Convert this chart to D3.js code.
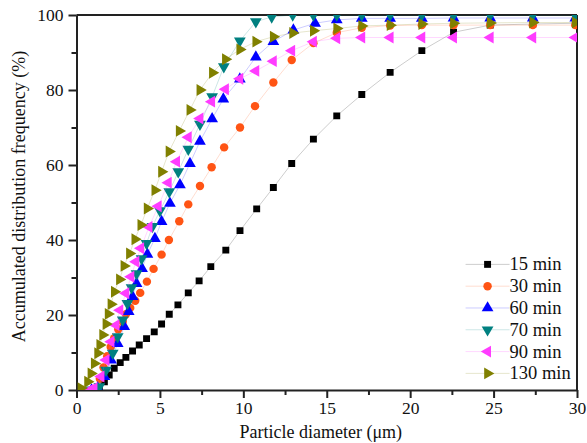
<!DOCTYPE html>
<html>
<head>
<meta charset="utf-8">
<script src="https://cdn.jsdelivr.net/npm/d3@7/dist/d3.min.js"></script>
<style>
  body { margin: 0; background: #fff; }
  text { font-family: "Times New Roman", "Liberation Serif", serif; fill: #111; }
</style>
</head>
<body>
<div id="chart"></div>
<script>
// Data: [diameter (µm), accumulated frequency (%)]
const min15 = [[1.2,0],[1.37,0.5],[1.67,2.2],[1.96,4],[2.26,5.8],[2.62,7.3],[2.96,8.7],[3.36,10.4],[3.76,12],[4.2,13.7],[4.66,15.5],[5.1,17.6],[5.56,20.2],[6.08,22.7],[6.7,25.9],[7.35,29.1],[8.05,32.9],[8.95,37.3],[9.8,42.5],[10.8,48.3],[11.8,54],[12.9,60.4],[14.2,66.9],[15.6,73.1],[17.1,78.8],[18.8,84.7],[20.7,90.5],[22.6,95.4],[24.8,97.3],[27.35,97.6],[29.9,97.8]];
const min30 = [[1.0,0],[1.17,0.5],[1.4,3],[1.62,6],[1.84,9],[2.05,11.5],[2.26,13.8],[2.5,16.2],[2.77,18.2],[2.96,20.2],[3.22,21.9],[3.52,23.8],[3.82,25.9],[4.22,28.9],[4.62,32.3],[5.1,36.1],[5.54,40],[6.16,45],[6.7,49.5],[7.4,54.4],[8.1,59.4],[8.85,64.7],[9.8,70],[10.7,75.7],[11.8,82],[12.9,88],[14.2,92.5],[15.6,95.3],[17.1,96.6],[18.8,97.2],[20.7,97.3],[22.6,97.3],[24.8,97.3],[27.35,97.3],[29.9,97.3]];
const min60 = [[0.9,0],[1.27,0.5],[1.67,3.6],[2.07,8],[2.47,12.4],[2.86,16.9],[3.13,20.9],[3.36,24.9],[3.6,28.4],[3.93,32.4],[4.25,36.2],[4.7,40.4],[5.1,44.9],[5.6,49.8],[6.2,54.7],[6.8,60.4],[7.4,66.3],[8.13,72.3],[8.8,77.6],[9.79,82.9],[10.75,88.8],[11.8,92.9],[13,96],[14.3,97.8],[15.6,98.7],[17.1,99.1],[18.8,99.1],[20.7,99.1],[22.6,99.2],[24.8,99.2],[27.35,99.2],[29.9,99.2]];
const min70 = [[0.9,0],[1.37,0.9],[1.77,5.3],[2.17,9.8],[2.47,14.2],[2.77,18.7],[3.05,23.1],[3.3,27.3],[3.6,31],[3.9,35],[4.2,39.1],[4.55,43.6],[5.0,47.8],[5.56,52.9],[6.1,58.2],[6.7,64.2],[7.4,70.9],[8.13,78.2],[8.83,86.2],[9.79,93.1],[10.75,98.2],[11.7,99.5],[12.96,100],[14.2,100],[15.6,100],[17.1,100],[18.8,100],[20.7,100],[22.6,100],[24.8,100],[27.35,100],[29.9,100]];
const min90 = [[0.8,0],[1.05,0.5],[1.47,3.6],[1.77,8],[2.07,12.9],[2.37,17.3],[2.6,21.3],[2.96,25.8],[3.26,30.2],[3.56,34.2],[3.85,37.8],[4.35,43.5],[4.9,49],[5.5,55.3],[6.0,60.9],[6.7,67.4],[7.4,72.4],[8.1,76.9],[8.93,80.2],[9.79,83],[10.75,85.1],[11.8,87.7],[12.9,90.5],[14.2,92.9],[15.6,93.8],[17.1,94],[18.8,94],[20.7,94],[22.6,94],[24.8,94],[27.35,94],[29.9,94]];
const min130 = [[0.27,0.5],[0.67,2.2],[0.87,4.4],[1.07,7.1],[1.27,9.8],[1.4,12],[1.57,14.7],[1.77,17.6],[1.9,20.3],[2.07,22.9],[2.27,26.2],[2.58,29.5],[2.85,33.1],[3.18,36.4],[3.5,40.2],[3.86,44],[4.24,48.4],[4.7,53.3],[5.1,58.2],[5.55,63.6],[6.16,69.1],[6.8,74.7],[7.4,80],[8.15,84.6],[8.93,88.2],[9.79,90.8],[10.75,92.9],[11.8,94.2],[12.96,95.2],[14.2,95.8],[15.6,96.4],[17.1,97.1],[18.8,97.3],[20.7,97.6],[22.6,97.8],[24.8,97.9],[27.35,98],[29.9,98]];

const seriesNames = ["15 min", "30 min", "60 min", "70 min", "90 min", "130 min"];
const seriesData = [min15, min30, min60, min70, min90, min130];
const colors = ["#000000", "#ff5414", "#0000ff", "#008080", "#ff3cff", "#808000"];
const symbols = [d3.symbolSquare, d3.symbolCircle, d3.symbolTriangle, d3.symbolTriangle, d3.symbolTriangle, d3.symbolTriangle];
const rotations = [0, 0, 0, 180, -90, 90];
const sizes = [48, 56, 60, 60, 60, 60];

const xTicks = [0, 5, 10, 15, 20, 25, 30];
const yTicks = [0, 20, 40, 60, 80, 100];

const W = 587, H = 443;
const margin = { top: 15, right: 10, bottom: 53, left: 76.5 };
const width = W - margin.left - margin.right;
const height = H - margin.top - margin.bottom;

const svg = d3.select("#chart").append("svg")
    .attr("width", W)
    .attr("height", H);

const g = svg.append("g")
    .attr("transform", `translate(${margin.left},${margin.top})`);

const x = d3.scaleLinear().domain([0, 30]).range([0, width]);
const y = d3.scaleLinear().domain([0, 100]).range([height, 0]);

svg.append("defs").append("clipPath").attr("id", "plot")
    .append("rect").attr("width", width).attr("height", height);

// minor ticks
g.append("g")
    .attr("transform", `translate(0,${height})`)
    .call(d3.axisBottom(x).tickValues(d3.range(2.5, 30, 5)).tickSize(5).tickFormat(""))
    .call(a => a.select(".domain").remove())
    .call(a => a.selectAll("line").attr("stroke", "#222").attr("stroke-width", 2));
g.append("g")
    .call(d3.axisLeft(y).tickValues(d3.range(10, 100, 20)).tickSize(5).tickFormat(""))
    .call(a => a.select(".domain").remove())
    .call(a => a.selectAll("line").attr("stroke", "#222").attr("stroke-width", 2));

// major axes
const xAxis = g.append("g")
    .attr("transform", `translate(0,${height})`)
    .call(d3.axisBottom(x).tickValues(xTicks).tickSize(8).tickPadding(4).tickSizeOuter(0));
const yAxis = g.append("g")
    .call(d3.axisLeft(y).tickValues(yTicks).tickSize(8).tickPadding(5).tickSizeOuter(0));

[xAxis, yAxis].forEach(a => {
    a.attr("font-family", null);
    a.select(".domain").attr("stroke", "#222").attr("stroke-width", 2);
    a.selectAll(".tick line").attr("stroke", "#222").attr("stroke-width", 2);
    a.selectAll(".tick text").attr("font-size", 17.5).attr("fill", "#111");
});

// top and right frame
g.append("line").attr("x1", 0).attr("x2", width).attr("y1", 0).attr("y2", 0)
    .attr("stroke", "#222").attr("stroke-width", 2);
g.append("line").attr("x1", width).attr("x2", width).attr("y1", 0).attr("y2", height)
    .attr("stroke", "#222").attr("stroke-width", 2);

const plot = g.append("g").attr("clip-path", "url(#plot)");

const line = d3.line().x(d => x(d[0])).y(d => y(d[1]));

seriesData.forEach((data, i) => {
    plot.append("path")
        .datum(data)
        .attr("d", line)
        .attr("fill", "none")
        .attr("stroke", colors[i])
        .attr("stroke-opacity", 0.2)
        .attr("stroke-width", 1);

    plot.selectAll(".m" + i)
        .data(data)
        .enter()
        .append("path")
        .attr("class", "m" + i)
        .attr("d", d3.symbol().type(symbols[i]).size(sizes[i]))
        .attr("transform", d => `translate(${x(d[0])},${y(d[1])}) rotate(${rotations[i]})`)
        .attr("fill", colors[i]);
});

// legend
const legend = g.append("g").attr("transform", `translate(${x(24.64)},${y(33.5)})`);
seriesNames.forEach((name, i) => {
    const row = legend.append("g").attr("transform", `translate(0,${i * 21.8})`);
    row.append("line").attr("x1", -22).attr("x2", 22).attr("y1", 0).attr("y2", 0)
        .attr("stroke", colors[i]).attr("stroke-opacity", 0.2);
    row.append("path")
        .attr("d", d3.symbol().type(symbols[i]).size(sizes[i]))
        .attr("transform", `rotate(${rotations[i]})`)
        .attr("fill", colors[i]);
    row.append("text")
        .attr("x", 22)
        .attr("y", 6)
        .attr("font-size", 18.5)
        .text(name);
});

// axis titles
g.append("text")
    .attr("x", width / 2 - 6)
    .attr("y", height + 48)
    .attr("text-anchor", "middle")
    .attr("font-size", 18)
    .text("Particle diameter (\u03bcm)");

g.append("text")
    .attr("transform", "rotate(-90)")
    .attr("x", -height / 2 + 6)
    .attr("y", -margin.left + 25)
    .attr("text-anchor", "middle")
    .attr("font-size", 18)
    .text("Accumulated distribution frequency (%)");
</script>
</body>
</html>
